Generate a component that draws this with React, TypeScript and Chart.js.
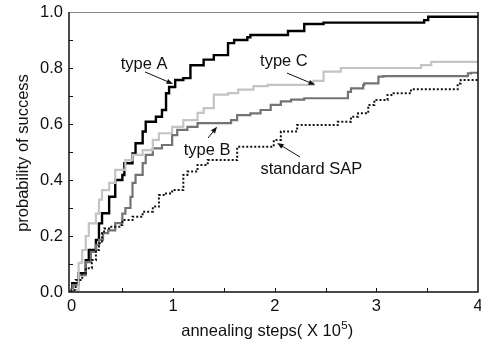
import React, { useEffect, useRef } from "react";
import { Chart, registerables } from "chart.js";

Chart.register(...registerables);

const FONT = '"Liberation Sans", Arial, Helvetica, sans-serif';

// ---- data (x in units of 10^5 annealing steps, y = probability of success) ----
const typeAX = [0, 0.007, 0.07, 0.14, 0.17, 0.24, 0.27, 0.3, 0.37, 0.43, 0.5, 0.52, 0.6, 0.63, 0.7, 0.73, 0.83, 0.89, 0.93, 0.96, 1.02, 1.1, 1.17, 1.3, 1.4, 1.54, 1.6, 1.73, 1.76, 2.13, 2.29, 2.48, 2.52, 3.47, 3.51, 3.61, 4.0];
const typeAY = [0, 0.007, 0.031, 0.067, 0.114, 0.15, 0.186, 0.245, 0.281, 0.34, 0.4, 0.418, 0.46, 0.495, 0.531, 0.573, 0.608, 0.626, 0.65, 0.71, 0.732, 0.757, 0.764, 0.81, 0.83, 0.846, 0.889, 0.9, 0.91, 0.918, 0.932, 0.957, 0.962, 0.962, 0.971, 0.983, 0.983];

const typeBX = [0, 0.01, 0.07, 0.14, 0.19, 0.24, 0.27, 0.31, 0.36, 0.43, 0.5, 0.53, 0.58, 0.6, 0.63, 0.7, 0.73, 0.8, 0.89, 0.99, 1.04, 1.14, 1.24, 1.4, 1.57, 1.63, 1.76, 1.86, 1.96, 2.06, 2.16, 2.29, 2.45, 2.72, 2.75, 2.87, 2.88, 3.02, 3.07, 3.9, 3.93, 4.0];
const typeBY = [0, 0.003, 0.025, 0.06, 0.107, 0.143, 0.168, 0.186, 0.21, 0.22, 0.246, 0.28, 0.3, 0.34, 0.39, 0.418, 0.46, 0.49, 0.513, 0.525, 0.56, 0.579, 0.59, 0.603, 0.603, 0.614, 0.632, 0.638, 0.65, 0.668, 0.681, 0.687, 0.692, 0.692, 0.715, 0.727, 0.739, 0.745, 0.769, 0.771, 0.781, 0.783];

const typeCX = [0, 0.07, 0.105, 0.14, 0.17, 0.24, 0.27, 0.3, 0.37, 0.43, 0.53, 0.6, 0.7, 0.8, 0.86, 0.99, 1.1, 1.24, 1.3, 1.4, 1.54, 1.64, 1.79, 1.93, 2.38, 2.48, 2.65, 2.75, 3.44, 3.54, 3.75, 4.0];
const typeCY = [0, 0.007, 0.104, 0.15, 0.2, 0.245, 0.28, 0.33, 0.364, 0.39, 0.436, 0.471, 0.49, 0.507, 0.543, 0.567, 0.59, 0.614, 0.64, 0.657, 0.705, 0.71, 0.723, 0.735, 0.74, 0.754, 0.787, 0.8, 0.8, 0.81, 0.822, 0.822];

const sapX = [0, 0.04, 0.105, 0.14, 0.2, 0.24, 0.27, 0.3, 0.32, 0.37, 0.47, 0.5, 0.6, 0.7, 0.8, 0.86, 0.93, 0.99, 1.1, 1.14, 1.24, 1.34, 1.47, 1.63, 1.73, 1.99, 2.06, 2.22, 2.38, 2.62, 2.75, 2.82, 2.92, 2.98, 3.11, 3.17, 3.34, 3.44, 3.8, 3.83, 4.0];
const sapY = [0, 0.007, 0.043, 0.067, 0.085, 0.114, 0.15, 0.174, 0.21, 0.227, 0.233, 0.239, 0.257, 0.269, 0.287, 0.305, 0.346, 0.352, 0.364, 0.418, 0.43, 0.454, 0.471, 0.471, 0.519, 0.519, 0.543, 0.573, 0.596, 0.596, 0.608, 0.626, 0.638, 0.668, 0.686, 0.704, 0.71, 0.724, 0.724, 0.745, 0.757];

// ---- ticks ----
const xTickValues = [0, 1, 2, 3, 4];
const yTickValues = [0, 0.2, 0.4, 0.6, 0.8, 1.0];
const xMinorTicks = [0.5, 1, 1.5, 2, 2.5, 3, 3.5];
const yMinorTicks = [0.1, 0.2, 0.3, 0.4, 0.5, 0.6, 0.7, 0.8, 0.9];

// ---- annotations: label, text centre (x,y), arrow from (x,y) to (x,y) in data units ----
const annLabels = ["type A", "type C", "type B", "standard SAP"];
const annTextX = [0.714, 2.09, 1.334, 2.36];
const annTextY = [0.814, 0.825, 0.507, 0.439];
const annFromX = [0.723, 2.12, 1.343, 2.249];
const annFromY = [0.786, 0.782, 0.55, 0.482];
const annToX = [0.999, 2.396, 1.432, 2.023];
const annToY = [0.743, 0.74, 0.59, 0.532];

const xTitle = "annealing steps( X 10";
const xTitleSup = "5";
const xTitleEnd = ")";
const yTitle = "probability of success";

const toPoints = (xs: number[], ys: number[]) => xs.map((x, i) => ({ x, y: ys[i] }));

const decorPlugin = {
  id: "decor",
  afterDatasetsDraw(chart: any) {
    const { ctx, chartArea: a, scales } = chart;
    const xs = scales.x;
    const ys = scales.y;
    ctx.save();
    // frame
    ctx.lineWidth = 1;
    ctx.strokeStyle = "#888";
    ctx.beginPath();
    ctx.moveTo(a.left, a.top + 0.5);
    ctx.lineTo(a.right, a.top + 0.5);
    ctx.stroke();
    ctx.strokeStyle = "#111";
    ctx.lineWidth = 1.5;
    ctx.beginPath();
    ctx.moveTo(a.left, a.top);
    ctx.lineTo(a.left, a.bottom);
    ctx.lineTo(a.right, a.bottom);
    ctx.lineTo(a.right, a.top);
    ctx.stroke();
    // inward ticks
    ctx.lineWidth = 1;
    ctx.beginPath();
    xMinorTicks.forEach((v) => {
      const px = Math.round(xs.getPixelForValue(v)) + 0.5;
      ctx.moveTo(px, a.bottom);
      ctx.lineTo(px, a.bottom - 4);
    });
    yMinorTicks.forEach((v) => {
      const py = Math.round(ys.getPixelForValue(v)) + 0.5;
      ctx.moveTo(a.left, py);
      ctx.lineTo(a.left + 4, py);
    });
    ctx.stroke();

    // annotations
    ctx.fillStyle = "#111";
    ctx.font = `16.5px ${FONT}`;
    ctx.textAlign = "center";
    ctx.textBaseline = "middle";
    annLabels.forEach((lab, i) => {
      ctx.fillText(lab, xs.getPixelForValue(annTextX[i]), ys.getPixelForValue(annTextY[i]));
      const x0 = xs.getPixelForValue(annFromX[i]);
      const y0 = ys.getPixelForValue(annFromY[i]);
      const x1 = xs.getPixelForValue(annToX[i]);
      const y1 = ys.getPixelForValue(annToY[i]);
      const ang = Math.atan2(y1 - y0, x1 - x0);
      const hl = 7;
      const hw = 0.38;
      ctx.beginPath();
      ctx.moveTo(x0, y0);
      ctx.lineTo(x1 - Math.cos(ang) * hl * 0.8, y1 - Math.sin(ang) * hl * 0.8);
      ctx.stroke();
      ctx.beginPath();
      ctx.moveTo(x1, y1);
      ctx.lineTo(x1 - hl * Math.cos(ang - hw), y1 - hl * Math.sin(ang - hw));
      ctx.lineTo(x1 - hl * Math.cos(ang + hw), y1 - hl * Math.sin(ang + hw));
      ctx.closePath();
      ctx.fill();
    });

    // x title with superscript
    ctx.textAlign = "left";
    ctx.textBaseline = "alphabetic";
    ctx.font = `16.5px ${FONT}`;
    const w1 = ctx.measureText(xTitle).width;
    ctx.font = `11.5px ${FONT}`;
    const w2 = ctx.measureText(xTitleSup).width;
    ctx.font = `16.5px ${FONT}`;
    const w3 = ctx.measureText(xTitleEnd).width;
    const total = w1 + w2 + w3;
    const cx = (a.left + a.right) / 2 + (267 - 273.5);
    let sx = cx - total / 2;
    const base = 336;
    ctx.fillText(xTitle, sx, base);
    sx += w1;
    ctx.font = `11.5px ${FONT}`;
    ctx.fillText(xTitleSup, sx + 0.5, base - 7);
    sx += w2 + 0.5;
    ctx.font = `16.5px ${FONT}`;
    ctx.fillText(xTitleEnd, sx, base);

    // y title
    ctx.translate(23, (a.top + a.bottom) / 2 + 1);
    ctx.rotate(-Math.PI / 2);
    ctx.textAlign = "center";
    ctx.textBaseline = "middle";
    ctx.fillText(yTitle, 0, 0);
    ctx.restore();
  },
};

export default function App() {
  const ref = useRef<HTMLCanvasElement | null>(null);
  useEffect(() => {
    if (!ref.current) return;
    const chart = new Chart(ref.current, {
      type: "line",
      data: {
        datasets: [
          {
            label: "standard SAP",
            data: toPoints(sapX, sapY),
            borderColor: "#111",
            borderWidth: 2,
            borderDash: [2, 2],
            stepped: "after",
            pointRadius: 0,
            fill: false,
          },
          {
            label: "type C",
            data: toPoints(typeCX, typeCY),
            borderColor: "#c4c4c4",
            borderWidth: 2.2,
            stepped: "after",
            pointRadius: 0,
            fill: false,
          },
          {
            label: "type B",
            data: toPoints(typeBX, typeBY),
            borderColor: "#737373",
            borderWidth: 2.2,
            stepped: "after",
            pointRadius: 0,
            fill: false,
          },
          {
            label: "type A",
            data: toPoints(typeAX, typeAY),
            borderColor: "#000",
            borderWidth: 2.4,
            stepped: "after",
            pointRadius: 0,
            fill: false,
          },
        ],
      },
      options: {
        responsive: false,
        animation: false,
        layout: { padding: { left: 0, right: 3, top: 12, bottom: 0 } },
        plugins: { legend: { display: false }, tooltip: { enabled: false } },
        scales: {
          x: {
            type: "linear",
            min: -0.025,
            max: 4,
            grid: { display: false, drawTicks: false },
            border: { display: false },
            afterBuildTicks: (s: any) => {
              s.ticks = xTickValues.map((v) => ({ value: v }));
            },
            afterFit: (s: any) => {
              s.height = 50;
              s.paddingLeft = 0;
              s.paddingRight = 0;
            },
            ticks: {
              padding: 5,
              color: "#111",
              font: { family: FONT, size: 16.5 },
              maxRotation: 0,
              autoSkip: false,
              callback: (v: any) => String(v),
            },
          },
          y: {
            type: "linear",
            min: 0,
            max: 1,
            grid: { display: false, drawTicks: false },
            border: { display: false },
            afterBuildTicks: (s: any) => {
              s.ticks = yTickValues.map((v) => ({ value: v }));
            },
            afterFit: (s: any) => {
              s.width = 69;
              s.paddingTop = 0;
              s.paddingBottom = 0;
            },
            ticks: {
              padding: 6,
              color: "#111",
              font: { family: FONT, size: 16.5 },
              autoSkip: false,
              callback: (v: any) => Number(v).toFixed(1),
            },
          },
        },
      },
      plugins: [decorPlugin],
    });
    return () => chart.destroy();
  }, []);
  return (
    <div style={{ position: "fixed", left: 0, top: 0, width: 481, height: 342, background: "#fff" }}>
      <canvas ref={ref} width={481} height={342} style={{ display: "block" }} />
    </div>
  );
}
